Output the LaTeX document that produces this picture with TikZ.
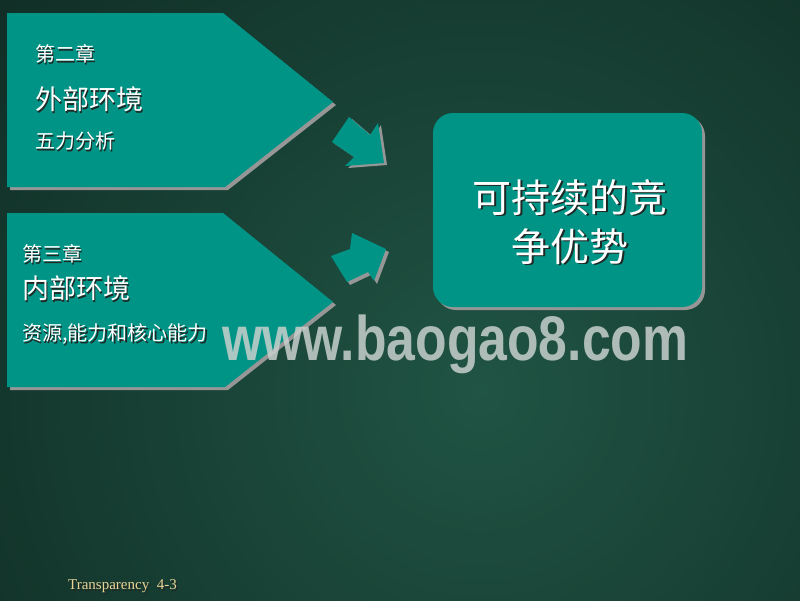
\documentclass[tikz,border=0pt]{standalone}
\usepackage{fontspec}
\setmainfont{Liberation Serif}
\newfontfamily\cjk{Noto Sans CJK SC}
\newfontfamily\wmfont{Liberation Sans}
\definecolor{bgout}{RGB}{13,38,31}
\definecolor{bgin}{RGB}{32,84,68}
\definecolor{teal}{RGB}{0,148,134}
\definecolor{shgray}{RGB}{150,150,150}
\definecolor{tan}{RGB}{232,212,150}
\definecolor{wmcol}{RGB}{200,208,205}
\definecolor{txtshadow}{RGB}{30,40,36}
\tikzset{
  panel/.style={fill=teal},
  panelshadow/.style={fill=shgray},
  txt/.style={text=white, inner sep=0pt, anchor=west},
  ctxt/.style={text=white, inner sep=0pt, anchor=center},
}
\newcommand{\fs}[1]{\fontsize{#1}{#1}\selectfont}
\newcommand{\shd}[1]{\makebox[0pt][l]{\hspace{1.5pt}\raisebox{-1.5pt}{\color{txtshadow}#1}}#1}
\begin{document}
\begin{tikzpicture}[x=1pt,y=-1pt]
\useasboundingbox (0,0) rectangle (800,600);
% background
\fill[bgout] (0,0) rectangle (800,600);
\begin{scope}
  \clip (0,0) rectangle (800,600);
  \shade[inner color=bgin, outer color=bgout] (480,390) circle (760pt);
\end{scope}

% pentagon 1
\fill[panelshadow] (10,16) -- (226,16) -- (336,105) -- (228,190) -- (10,190) -- cycle;
\fill[panel] (7,13) -- (223,13) -- (333,102) -- (225,187) -- (7,187) -- cycle;
% pentagon 2
\fill[panelshadow] (10,216) -- (226,216) -- (336,305) -- (228,390) -- (10,390) -- cycle;
\fill[panel] (7,213) -- (223,213) -- (333,302) -- (225,387) -- (7,387) -- cycle;

% arrow 1 (down-right)
\begin{scope}[shift={(3,2)}]
\fill[panelshadow] (349,117) -- (370,135) -- (378,123) -- (384,163) -- (345,166) -- (354,157) -- (332,142) -- cycle;
\end{scope}
\fill[panel] (349,117) -- (370,135) -- (378,123) -- (384,163) -- (345,166) -- (354,157) -- (332,142) -- cycle;
% arrow 2 (up-right)
\begin{scope}[shift={(3,3)}]
\fill[panelshadow] (331,256) -- (350,249) -- (352,233) -- (386,249) -- (374,281) -- (368,272) -- (347,282) -- cycle;
\end{scope}
\fill[panel] (331,256) -- (350,249) -- (352,233) -- (386,249) -- (374,281) -- (368,272) -- (347,282) -- cycle;

% rounded box
\fill[panelshadow, rounded corners=20pt] (436,116) rectangle (705,310);
\fill[panel, rounded corners=20pt] (433,113) rectangle (702,307);

% watermark
\node[inner sep=0pt, anchor=base west, text=wmcol, opacity=0.85] (wm) at (222,360)
  {\wmfont\bfseries\fs{63}\scalebox{0.82}[1]{www.baogao8.com}};

% texts panel 1
\node[txt] (c2) at (35,55) {\cjk\fs{20}\shd{第二章}};
\node[txt] (ext) at (35,100) {\cjk\fs{27}\shd{外部环境}};
\node[txt] (five) at (35,142) {\cjk\fs{20}\shd{五力分析}};

% texts panel 2
\node[txt] (c3) at (22,255) {\cjk\fs{20}\shd{第三章}};
\node[txt] (int) at (22,289) {\cjk\fs{27}\shd{内部环境}};
\node[txt] (res) at (22,335) {\cjk\fs{20}\shd{资源,能力和核心能力}};

% box text
\node[ctxt] (goal1) at (570,198) {\cjk\fs{39}\shd{可持续的竞}};
\node[ctxt] (goal2) at (570,247) {\cjk\fs{39}\shd{争优势}};

% footer
\node[inner sep=0pt, anchor=west, text=tan] (foot) at (68,587) {\fs{15}\shd{Transparency\ \ 4-3}};
\end{tikzpicture}
\end{document}
